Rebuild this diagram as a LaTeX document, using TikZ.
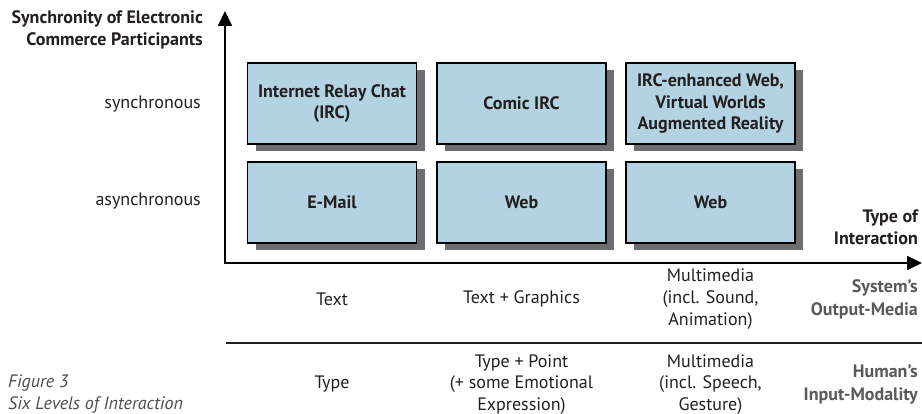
\documentclass[tikz,border=0pt]{standalone}
\usepackage{fontspec}
\setmainfont{PT Sans}
\usetikzlibrary{arrows.meta,shadows}
\definecolor{boxblue}{HTML}{B3D3E3}
\definecolor{shadowgray}{HTML}{6D6E71}
\definecolor{txt}{HTML}{231F20}
\definecolor{graytxt}{HTML}{58595B}
\definecolor{captxt}{HTML}{4D4D4F}
\begin{document}
\begin{tikzpicture}[x=1pt,y=-1pt,
  every node/.style={inner sep=0pt, text=txt},
  plain/.style={font=\fontsize{18}{21.8}\selectfont, align=center},
  rlabel/.style={font=\bfseries\fontsize{18}{22.5}\selectfont, align=right, anchor=east},
  glabel/.style={rlabel, text=graytxt},
  cell/.style={draw=black, line width=1.3pt, fill=boxblue, minimum width=169pt, minimum height=81pt,
    align=center, font=\bfseries\fontsize{18}{21.8}\selectfont,
    drop shadow={shadow xshift=8pt, shadow yshift=-7pt, fill=shadowgray, opacity=1}},
  axis/.style={line width=1.8pt, -{Triangle[length=15pt,width=14pt]}}]
\clip (0,0) rectangle (922,414);
% axes
\coordinate (O) at (225,263);
\coordinate (Ytop) at (225,11);
\coordinate (Xend) at (922,263);
\coordinate (Sl) at (226,343);
\coordinate (Sr) at (922,343);
\draw[axis] (O) -- (Ytop);
\draw[axis] ([xshift=-0.9pt]O) -- (Xend);
\draw[line width=1.4pt, draw=txt] (Sl) -- (Sr);
% axis titles
\node[rlabel] (ytitle) at (203,30) {Synchronity of Electronic\\Commerce Participants};
\node[rlabel] (xtitle) at (918,227.5) {Type of\\Interaction};
\node[plain, anchor=east] (sync) at (201,104) {synchronous};
\node[plain, anchor=east] (async) at (201,201) {asynchronous};
% boxes
\node[cell] (irc) at (332,103.5) {Internet Relay Chat\\(IRC)};
\node[cell] (comic) at (521.5,103.5) {Comic IRC};
\node[cell] (ircweb) at (710.5,103.5) {IRC-enhanced Web,\\Virtual Worlds\\Augmented Reality};
\node[cell] (mail) at (332,202.5) {E-Mail};
\node[cell] (web1) at (521.5,202.5) {Web};
\node[cell] (web2) at (710.5,202.5) {Web};
% output media row
\node[plain] (o1) at (332,299) {Text};
\node[plain] (o2) at (521.5,299) {Text + Graphics};
\node[plain] (o3) at (710.5,299) {Multimedia\\(incl. Sound,\\Animation)};
\node[glabel] (olab) at (918,299.5) {System’s\\Output-Media};
% input modality row
\node[plain] (i1) at (332,384.5) {Type};
\node[plain] (i2) at (521.5,384.5) {Type + Point\\(+ some Emotional\\Expression)};
\node[plain] (i3) at (710.5,384.5) {Multimedia\\(incl. Speech,\\Gesture)};
\node[glabel] (ilab) at (918,384.5) {Human’s\\Input-Modality};
% caption
\node[font=\itshape\fontsize{18}{22}\selectfont, text=captxt, align=left, anchor=west] (cap) at (8,394) {Figure 3\\Six Levels of Interaction};
\end{tikzpicture}
\end{document}
